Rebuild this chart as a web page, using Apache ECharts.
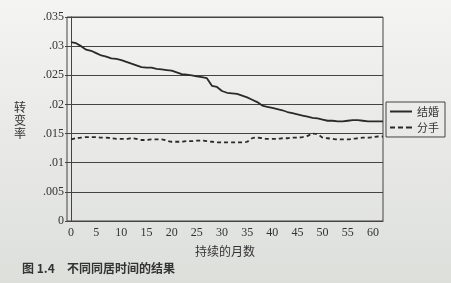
<!DOCTYPE html>
<html><head><meta charset="utf-8">
<script src="https://cdn.jsdelivr.net/npm/echarts@6/dist/echarts.min.js"></script>
<style>html,body{margin:0;padding:0;}#c{width:451px;height:283px;}</style>
</head><body><div id="c"></div>
<script>
const months = [];
for (let m = 0; m <= 62; m++) months.push(m);
const marriage = [0.0307,0.0305,0.0300,0.0294,0.0292,0.0288,0.0284,0.0282,0.0279,0.0278,0.0276,0.0273,0.0270,0.0267,0.0264,0.0263,0.0263,0.0261,0.0260,0.0259,0.0258,0.0255,0.0252,0.0251,0.0250,0.0248,0.0247,0.0245,0.0232,0.0230,0.0223,0.0220,0.0219,0.0218,0.0215,0.0212,0.0208,0.0204,0.0198,0.0196,0.0194,0.0192,0.0190,0.0187,0.0185,0.0183,0.0181,0.0179,0.0177,0.0176,0.0174,0.0172,0.0172,0.0171,0.0171,0.0172,0.0173,0.0173,0.0172,0.0171,0.0171,0.0171,0.0171];
const breakup = [0.0140,0.0142,0.0143,0.0144,0.0144,0.0144,0.0143,0.0143,0.0142,0.0141,0.0141,0.0141,0.0142,0.0141,0.0139,0.0139,0.0140,0.0140,0.0140,0.0138,0.0136,0.0136,0.0136,0.0137,0.0137,0.0138,0.0138,0.0137,0.0136,0.0135,0.0135,0.0135,0.0135,0.0135,0.0135,0.0136,0.0142,0.0143,0.0142,0.0141,0.0141,0.0141,0.0142,0.0142,0.0143,0.0143,0.0144,0.0146,0.0150,0.0149,0.0143,0.0142,0.0141,0.0140,0.0140,0.0140,0.0141,0.0142,0.0143,0.0143,0.0144,0.0145,0.0145];
const xTicks = [0,5,10,15,20,25,30,35,40,45,50,55,60];

const chart = echarts.init(document.getElementById('c'));
const font = 'Liberation Serif';
const cjk = 'Noto Sans CJK SC';
chart.setOption({
  backgroundColor: {type:'linear', x:0, y:0, x2:0, y2:1, colorStops:[{offset:0,color:'#f4f4f2'},{offset:1,color:'#dddfdb'}]},
  animation: false,
  grid: {left: 67, right: 68, top: 17, bottom: 62, show: true, borderColor: '#444', borderWidth: 1, backgroundColor: 'transparent'},
  legend: {
    right: 6, top: 102, orient: 'vertical', itemWidth: 22, itemHeight: 6, itemGap: 5,
    borderColor: '#444', borderWidth: 1, padding: [4, 6, 4, 4], borderRadius: 0,
    textStyle: {fontFamily: cjk, fontSize: 11, color: '#333'},
    data: [{name:'结婚', icon:'path://M0,0H22V2H0Z'}, {name:'分手', icon:'path://M0,0H5V2H0Z M8,0H13V2H8Z M16,0H22V2H16Z'}]
  },
  xAxis: {
    type: 'value', min: -0.8, max: 62,
    name: '持续的月数', nameLocation: 'middle', nameGap: 24,
    nameTextStyle: {fontFamily: cjk, fontSize: 12, color: '#333'},
    axisLine: {show: true, lineStyle: {color: '#444'}},
    axisTick: {show: false},
    splitLine: {show: false},
    axisLabel: {customValues: xTicks, fontFamily: font, fontSize: 12, color: '#333', margin: 6}
  },
  yAxis: {
    type: 'value', min: 0, max: 0.035, interval: 0.005,
    axisLine: {show: true, lineStyle: {color: '#444'}},
    axisTick: {show: true, length: 6, lineStyle: {color: '#444'}},
    splitLine: {show: true, lineStyle: {color: '#444', width: 1}},
    axisLabel: {fontFamily: font, fontSize: 12, color: '#333', margin: 3,
      formatter: v => v === 0 ? '0' : String(+v.toFixed(3)).replace(/^0/, '')}
  },
  series: [
    {name: '结婚', type: 'line', data: months.map((m,i)=>[m, marriage[i]]), showSymbol: false, symbol: 'none',
      lineStyle: {color: '#2a2a2a', width: 1.8}, itemStyle: {color: '#2a2a2a'}},
    {name: '分手', type: 'line', data: months.map((m,i)=>[m, breakup[i]]), showSymbol: false, symbol: 'none', smooth: 0.3,
      lineStyle: {color: '#2a2a2a', width: 1.8, type: [4, 3]}, itemStyle: {color: '#2a2a2a'}}
  ],
  graphic: [
    {type: 'text', left: 14, top: 101, style: {text: '转\n变\n率', font: '12px "Noto Sans CJK SC"', fill: '#333', lineHeight: 13}},
    {type: 'text', left: 22, top: 262, style: {text: '图 1.4', font: 'bold 12px "Noto Sans CJK SC"', fill: '#333'}},
    {type: 'text', left: 67, top: 262, style: {text: '不同同居时间的结果', font: 'bold 12px "Noto Sans CJK SC"', fill: '#333'}}
  ]
});
</script></body></html>
